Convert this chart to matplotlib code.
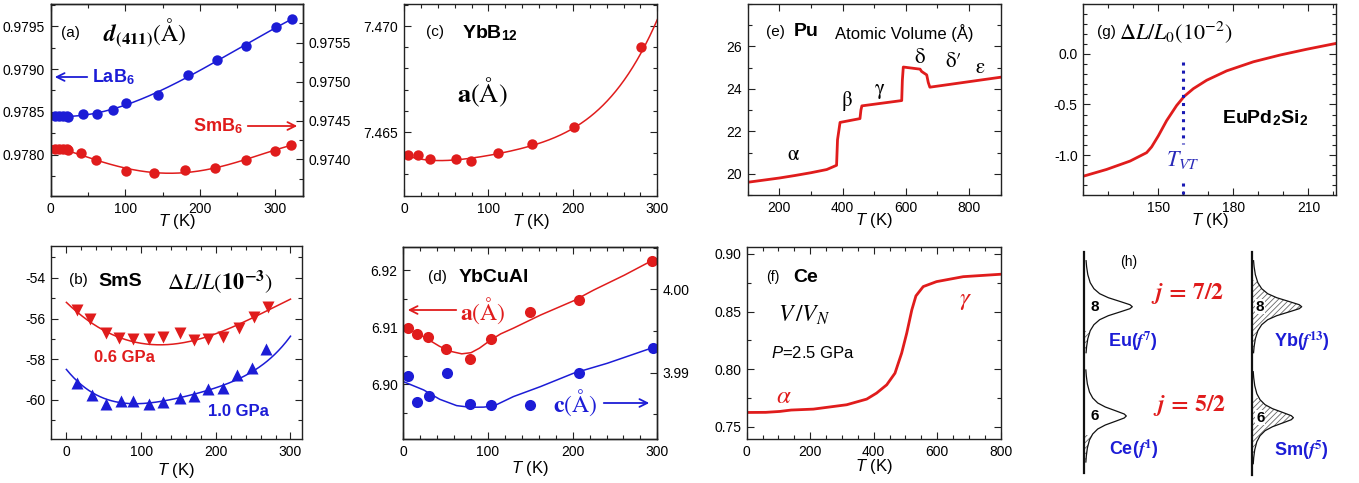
import numpy as np
import matplotlib
matplotlib.use('Agg')
import matplotlib.pyplot as plt
from matplotlib.ticker import MultipleLocator, FormatStrFormatter, FixedLocator
from numpy.polynomial import Polynomial

W, H = 1359, 483
plt.rcParams['font.family'] = ['Liberation Sans', 'DejaVu Sans']
plt.rcParams['mathtext.fontset'] = 'custom'
plt.rcParams['mathtext.rm'] = 'STIXGeneral'
plt.rcParams['mathtext.it'] = 'STIXGeneral:italic'
plt.rcParams['mathtext.bf'] = 'STIXGeneral:bold'
if 'mathtext.bfit' in plt.rcParams:
    plt.rcParams['mathtext.bfit'] = 'STIXGeneral:italic:bold'
plt.rcParams['mathtext.sf'] = 'Liberation Sans:bold'
plt.rcParams['mathtext.tt'] = 'Liberation Sans:italic'
plt.rcParams['axes.unicode_minus'] = False
plt.rcParams['hatch.linewidth'] = 0.6

RED = '#e01c1c'
BLUE = '#1c1cd6'

# ---------------- data ----------------
# (a) d(411) LaB6 (left axis) and SmB6 (right axis)
a_T_La = [5.8, 11.5, 16.9, 21.3, 23.5, 42.7, 62.6, 83.5, 100.4, 143.5, 183.5, 222.3, 262, 301.3, 323.5]
a_d_La = [0.97845, 0.97845, 0.97845, 0.97845, 0.97844, 0.97848, 0.97848, 0.97852, 0.97861,
          0.97870, 0.97893, 0.97910, 0.97927, 0.97949, 0.97958]
a_T_Sm = [5.8, 11.5, 16.9, 21.3, 23.5, 40.4, 61.3, 101.3, 139, 180.4, 220.4, 261.3, 300.4, 321.3]
a_d_Sm = [0.97414, 0.97414, 0.97414, 0.97413, 0.97412, 0.97408, 0.97399, 0.97385, 0.97382,
          0.97387, 0.97389, 0.97399, 0.97411, 0.97419]
a_right_ticks = [0.9740, 0.9745, 0.9750, 0.9755]

# (b) SmS dL/L (1e-3)
b_T_06 = [14.7, 32, 52.4, 70.2, 89.7, 111, 129.7, 151.5, 171, 190, 210, 231, 250.7, 270]
b_v_06 = [-55.59, -56.04, -56.70, -56.97, -57.02, -57.02, -56.92, -56.73, -57.06, -57.02,
          -56.89, -56.48, -55.94, -55.42]
b_T_10 = [14.7, 34.4, 52.4, 73.3, 89.7, 111, 129.7, 151.5, 171, 190, 209.8, 228.9, 248.9, 266.7]
b_v_10 = [-59.15, -59.75, -60.19, -60.06, -60.06, -60.19, -60.08, -59.88, -59.78, -59.47,
          -59.42, -58.77, -58.44, -57.51]
b_cT_06 = [0, 26.7, 53.3, 80, 111, 142, 178, 213, 249, 299]
b_cv_06 = [-55.23, -55.99, -56.65, -57.06, -57.30, -57.25, -56.97, -56.57, -55.99, -55.06]
b_cT_10 = [0, 22.2, 44.4, 71.1, 97.8, 124.4, 151.1, 177.8, 213.3, 248.9, 275.6, 298.7]
b_cv_10 = [-58.49, -59.34, -59.83, -60.11, -60.16, -60.08, -59.92, -59.67, -59.18, -58.61,
           -57.9, -56.92]

# (c) YbB12 a
c_T = [5.1, 16.2, 30.9, 61.3, 79.5, 111.6, 151.6, 201, 281]
c_a = [7.46392, 7.46390, 7.46373, 7.46371, 7.46365, 7.46401, 7.46442, 7.46522, 7.46899]
c_cT = [0, 30, 60, 80, 110, 150, 200, 230, 250, 281, 300]
c_ca = [7.46390, 7.46375, 7.46368, 7.46368, 7.46395, 7.46442, 7.46522, 7.46600, 7.46672,
        7.46899, 7.47020]

# (d) YbCuAl a (left) and c (right)
d_T_a = [5.9, 16.6, 29.6, 50.5, 79, 103.4, 149.2, 207.3, 294.1]
d_a = [6.90977, 6.90871, 6.90819, 6.90614, 6.90439, 6.90795, 6.91269, 6.91468, 6.92164]
d_T_c = [5.9, 16.6, 30.8, 52.1, 79, 103.4, 149.2, 207.3, 295.3]
d_c = [3.9896, 3.98652, 3.98724, 3.98992, 3.9862, 3.98612, 3.98612, 3.99, 3.99292]
d_cT_a = [0, 12, 24, 43, 57, 69, 80, 90, 103, 115, 130, 162, 201, 225, 261, 298]
d_ca = [6.9099, 6.9092, 6.9083, 6.9066, 6.9057, 6.9053, 6.9055, 6.9063, 6.9077, 6.9088,
        6.9098, 6.9121, 6.9146, 6.9165, 6.9191, 6.9220]
d_cT_c = [0, 24, 43, 63, 79, 95, 107, 130, 162, 201, 241, 296]
d_cc = [3.98892, 3.98792, 3.9868, 3.98604, 3.98584, 3.98586, 3.98600, 3.98712, 3.98832,
        3.98992, 3.99112, 3.99304]

# (e) Pu atomic volume
e_T = [100, 150, 200, 250, 300, 350, 381, 384, 392, 455, 458, 461, 587, 589, 592, 645,
       650, 666, 671, 676, 900]
e_V = [19.6, 19.7, 19.8, 19.92, 20.05, 20.2, 20.4, 21.6, 22.42, 22.6, 23.0, 23.2, 23.45,
       24.4, 25.03, 24.93, 24.82, 24.66, 24.3, 24.08, 24.55]
e_yticks = [20, 22, 24, 26]

# (f) Ce V/VN
f_T = [0, 60, 105, 125, 140, 210, 315, 378, 409, 441, 467, 488, 504, 520, 533, 556, 598, 682, 800]
f_V = [0.7624, 0.7625, 0.7633, 0.7640, 0.7645, 0.7653, 0.7691, 0.7740, 0.7792, 0.7864,
       0.7965, 0.8139, 0.8312, 0.8514, 0.8636, 0.8717, 0.8760, 0.8803, 0.8824]

# (g) EuPd2Si2 dL/L0
g_T = [120, 129.3, 138.7, 145.3, 147.3, 150, 153.3, 157.3, 160.3, 164, 169.3, 177.3, 188,
       198.7, 209.3, 220, 221]
g_L = [-1.21, -1.143, -1.06, -0.977, -0.92, -0.81, -0.66, -0.51, -0.42, -0.343, -0.26,
       -0.167, -0.077, -0.01, 0.047, 0.1, 0.105]
g_TVT = 160

# (h) schematic peak profile (offset in px, relative width)
h_prof_dy = [-46, -40, -32, -24, -18, -13, -9, -5, -2, 0, 2, 5, 9, 13, 18, 24, 32, 40, 46]
h_prof_w = [0.037, 0.048, 0.073, 0.123, 0.2, 0.32, 0.5, 0.76, 0.95, 1.0, 0.95, 0.76, 0.5,
            0.32, 0.2, 0.123, 0.073, 0.048, 0.037]
h_line_x = [1084.3, 1251.7]
h_peak_line = [0, 0, 1, 1]
h_peak_y = [306.7, 416.0, 306.7, 417.7]
h_peak_w = [48, 42, 50, 41.7]
h_fermi = [331, 435, 280, 398]
h_num = ['8', '6', '8', '6']
h_ion = [r'Eu($\boldsymbol{f}^{\mathbf{7}}$)', r'Ce($\boldsymbol{f}^{\mathbf{1}}$)',
         r'Yb($\boldsymbol{f}^{\mathbf{13}}$)', r'Sm($\boldsymbol{f}^{\mathbf{5}}$)']

# ---------------- helpers ----------------
fig = plt.figure(figsize=(W / 100, H / 100), dpi=100)


def F(x, y):
    return (x / W, 1 - y / H)


def make_ax(l, r, t, b):
    return fig.add_axes([l / W, 1 - b / H, (r - l) / W, (b - t) / H])


def style(ax, left=True, right=True, top=True):
    ax.tick_params(which='both', direction='in', top=top, right=right, left=left,
                   labelsize=10, pad=4, width=0.8, color='#222222')
    ax.tick_params(which='major', length=5)
    ax.tick_params(which='minor', length=3)
    for s in ax.spines.values():
        s.set_linewidth(1.0)
        s.set_color('#222222')


def ftext(x, y, s, **kw):
    kw.setdefault('ha', 'center')
    kw.setdefault('va', 'center')
    fig.text(x / W, 1 - y / H, s, **kw)


def arrow(x0, y0, x1, y1, color):
    fig.add_artist(matplotlib.patches.FancyArrowPatch(
        F(x0, y0), F(x1, y1), transform=fig.transFigure, arrowstyle='->',
        mutation_scale=14, lw=1.3, color=color))


def fitcurve(x, y, deg, x0, x1):
    p = Polynomial.fit(x, y, deg)
    xx = np.linspace(x0, x1, 300)
    return xx, p(xx)


def xlab(ax, dy, axh):
    ax.set_xlabel(r'$\mathtt{T}$ (K)', fontsize=12)
    ax.xaxis.set_label_coords(0.5, -dy / axh)
    ax.xaxis.label.set_va('center')


# ---------------- (a) ----------------
ax = make_ax(50.7, 303, 4, 196)
ax2 = ax.twinx()
style(ax, right=False)
style(ax2, left=False)
ax.set_xlim(0, 338)
ax.set_ylim(0.977523, 0.979756)
ax2.set_ylim(0.97353, 0.97600)
xx, yy = fitcurve(a_T_La, a_d_La, 4, 0, 325)
ax.plot(xx, yy, color=BLUE, lw=1.1)
ax.plot(a_T_La, a_d_La, 'o', color=BLUE, ms=7.5, mec='none')
xx, yy = fitcurve(a_T_Sm, a_d_Sm, 4, 0, 325)
ax2.plot(xx, yy, color=RED, lw=1.1)
ax2.plot(a_T_Sm, a_d_Sm, 'o', color=RED, ms=7.5, mec='none')
ax.xaxis.set_major_locator(MultipleLocator(100))
ax.xaxis.set_minor_locator(MultipleLocator(50))
ax.yaxis.set_major_locator(MultipleLocator(0.0005))
ax.yaxis.set_minor_locator(MultipleLocator(0.00025))
ax.yaxis.set_major_formatter(FormatStrFormatter('%.4f'))
ax2.yaxis.set_major_locator(FixedLocator(a_right_ticks))
ax2.yaxis.set_minor_locator(MultipleLocator(0.00025))
ax2.yaxis.set_major_formatter(FormatStrFormatter('%.4f'))
xlab(ax, 25.5, 192)
ftext(70, 33, '(a)', fontsize=11)
ftext(145, 33, r'$\boldsymbol{d}_{\mathbf{(411)}}(\mathrm{Å})$', fontsize=17)
ftext(92, 77, r'LaB$_{\mathsf{6}}$', fontsize=13, fontweight='bold', color=BLUE, ha='left')
arrow(90, 77, 52, 77, BLUE)
ftext(193, 126, r'SmB$_{\mathsf{6}}$', fontsize=13, fontweight='bold', color=RED, ha='left')
arrow(245, 126, 300, 126, RED)

# ---------------- (b) ----------------
ax = make_ax(50.7, 301.7, 246, 439.3)
style(ax)
ax.set_xlim(-21, 315)
ax.set_ylim(-61.93, -52.44)
xx, yy = fitcurve(b_cT_06, b_cv_06, 4, 0, 300)
ax.plot(xx, yy, color=RED, lw=1.1)
ax.plot(b_T_06, b_v_06, 'v', color=RED, ms=8, mec='none')
xx, yy = fitcurve(b_cT_10, b_cv_10, 5, 0, 300)
ax.plot(xx, yy, color=BLUE, lw=1.1)
ax.plot(b_T_10, b_v_10, '^', color=BLUE, ms=8, mec='none')
ax.xaxis.set_major_locator(MultipleLocator(100))
ax.xaxis.set_minor_locator(MultipleLocator(20))
ax.yaxis.set_major_locator(MultipleLocator(2))
ax.yaxis.set_minor_locator(MultipleLocator(1))
xlab(ax, 30.7, 193.3)
ftext(78, 280, '(b)', fontsize=11)
ftext(120, 282, 'SmS', fontsize=14, fontweight='bold')
ftext(220, 282, r'$\Delta L/L(\mathbf{10}^{\mathbf{-3}})$', fontsize=16)
ftext(124.5, 357, '0.6 GPa', fontsize=12, fontweight='bold', color=RED)
ftext(238.5, 412, '1.0 GPa', fontsize=12, fontweight='bold', color=BLUE)

# ---------------- (c) ----------------
ax = make_ax(404, 657.3, 4, 196)
style(ax)
ax.set_xlim(0, 300)
ax.set_ylim(7.46198, 7.47104)
xx, yy = fitcurve(c_cT, c_ca, 5, 0, 300)
ax.plot(xx, yy, color=RED, lw=1.1)
ax.plot(c_T, c_a, 'o', color=RED, ms=7.5, mec='none')
ax.xaxis.set_major_locator(MultipleLocator(100))
ax.xaxis.set_minor_locator(MultipleLocator(20))
ax.yaxis.set_major_locator(MultipleLocator(0.005))
ax.yaxis.set_minor_locator(MultipleLocator(0.001))
ax.yaxis.set_major_formatter(FormatStrFormatter('%.3f'))
xlab(ax, 25.5, 192)
ftext(435, 32, '(c)', fontsize=11)
ftext(490, 33, r'YbB$_{\mathsf{12}}$', fontsize=14, fontweight='bold')
ftext(482, 92, r'$\mathbf{a}(\mathrm{Å})$', fontsize=19)

# ---------------- (d) ----------------
ax = make_ax(403.3, 657.3, 246.7, 439.3)
ax2 = ax.twinx()
style(ax, right=False)
style(ax2, left=False)
ax.set_xlim(0, 300)
ax.set_ylim(6.8903, 6.9241)
ax2.set_ylim(3.9820, 4.0051)
ax.plot(d_cT_a, d_ca, color=RED, lw=1.1)
ax.plot(d_T_a, d_a, 'o', color=RED, ms=8, mec='none')
ax2.plot(d_cT_c, d_cc, color=BLUE, lw=1.1)
ax2.plot(d_T_c, d_c, 'o', color=BLUE, ms=8, mec='none')
ax.xaxis.set_major_locator(MultipleLocator(100))
ax.xaxis.set_minor_locator(MultipleLocator(20))
ax.yaxis.set_major_locator(MultipleLocator(0.01))
ax.yaxis.set_minor_locator(MultipleLocator(0.005))
ax.yaxis.set_major_formatter(FormatStrFormatter('%.2f'))
ax2.yaxis.set_major_locator(MultipleLocator(0.01))
ax2.yaxis.set_minor_locator(MultipleLocator(0.005))
ax2.yaxis.set_major_formatter(FormatStrFormatter('%.2f'))
xlab(ax, 29, 192.6)
ftext(437, 277, '(d)', fontsize=11)
ftext(494, 277, 'YbCuAl', fontsize=14, fontweight='bold')
ftext(482.5, 311, r'$\mathbf{a}(\mathrm{Å})$', fontsize=17, color=RED)
arrow(459, 310, 405, 310, RED)
ftext(575.5, 403, r'$\mathbf{c}(\mathrm{Å})$', fontsize=17, color=BLUE)
arrow(601, 403, 652, 403, BLUE)

# ---------------- (e) ----------------
ax = make_ax(747.7, 1000.7, 4, 195)
style(ax)
ax.set_xlim(100, 900)
ax.set_ylim(19.0, 28.0)
ax.plot(e_T, e_V, color=RED, lw=2)
ax.xaxis.set_major_locator(MultipleLocator(200))
ax.xaxis.set_minor_locator(MultipleLocator(100))
ax.yaxis.set_major_locator(FixedLocator(e_yticks))
ax.yaxis.set_minor_locator(MultipleLocator(1))
xlab(ax, 26, 191)
ftext(775, 32, '(e)', fontsize=11)
ftext(806, 32, 'Pu', fontsize=14, fontweight='bold')
ftext(904, 33, 'Atomic Volume (Å)', fontsize=12)
for s, x, y in [('α', 793, 155), ('β', 846.7, 101), ('γ', 880, 89), ('δ', 920, 58),
                ('δ′', 954, 62), ('ε', 980, 68)]:
    ftext(x, y, s, fontsize=15, family=['STIXGeneral', 'DejaVu Serif'])

# ---------------- (f) ----------------
ax = make_ax(746.7, 1000.7, 247.3, 439.3)
style(ax)
ax.set_xlim(0, 800)
ax.set_ylim(0.7391, 0.9058)
ax.plot(f_T, f_V, color=RED, lw=2)
ax.xaxis.set_major_locator(MultipleLocator(200))
ax.xaxis.set_minor_locator(MultipleLocator(50))
ax.yaxis.set_major_locator(MultipleLocator(0.05))
ax.yaxis.set_minor_locator(MultipleLocator(0.025))
ax.yaxis.set_major_formatter(FormatStrFormatter('%.2f'))
xlab(ax, 27.5, 192)
ftext(773, 277, '(f)', fontsize=10)
ftext(806, 278, 'Ce', fontsize=14, fontweight='bold')
ftext(804, 315, r'$V\,/V_N$', fontsize=17)
ftext(813, 353, r'$\mathtt{P}$=2.5 GPa', fontsize=12)
ftext(784, 396, r'$\alpha$', fontsize=18, color=RED)
ftext(965, 300, r'$\gamma$', fontsize=18, color=RED)

# ---------------- (g) ----------------
ax = make_ax(1083.3, 1336, 4, 195)
style(ax)
ax.set_xlim(120, 221)
ax.set_ylim(-1.396, 0.495)
ax.plot(g_T, g_L, color=RED, lw=2)
ax.plot([g_TVT, g_TVT], [-0.08, -0.89], ls=':', color='#1a1ab4', lw=2.2)
ax.plot([g_TVT, g_TVT], [-1.28, -1.396], ls=':', color='#1a1ab4', lw=2.2)
ax.xaxis.set_major_locator(FixedLocator([150, 180, 210]))
ax.xaxis.set_minor_locator(MultipleLocator(10))
ax.yaxis.set_major_locator(MultipleLocator(0.5))
ax.yaxis.set_minor_locator(MultipleLocator(0.1))
ax.yaxis.set_major_formatter(FormatStrFormatter('%.1f'))
xlab(ax, 26, 191)
ftext(1106.5, 32, '(g)', fontsize=11)
ftext(1176, 32, r'$\Delta L/L_0(10^{-2})$', fontsize=16)
ftext(1265.5, 118, r'EuPd$_{\mathsf{2}}$Si$_{\mathsf{2}}$', fontsize=14, fontweight='bold')
ftext(1183.3, 160, r'$T_{VT}$', fontsize=16, color='#2a2ab8')

# ---------------- (h) ----------------
axh = fig.add_axes([1060 / W, 0, 299 / W, 240 / H])
axh.set_xlim(1060, 1359)
axh.set_ylim(483, 243)
axh.axis('off')
axh.plot([h_line_x[0], h_line_x[0]], [251.7, 473.3], color='#111111', lw=1.6)
axh.plot([h_line_x[1], h_line_x[1]], [251.7, 475], color='#111111', lw=1.6)
dy = np.array(h_prof_dy, float)
pw = np.array(h_prof_w, float)
for i in range(4):
    lx = h_line_x[h_peak_line[i]]
    cy = h_peak_y[i]
    w = h_peak_w[i]
    axh.plot(lx + w * pw, cy + dy, color='#111111', lw=0.9)
    ys = np.linspace(h_fermi[i], cy + dy[-1], 60)
    xs = lx + w * np.interp(ys, cy + dy, pw)
    axh.fill_betweenx(ys, lx, xs, facecolor='none', edgecolor='#666666', hatch='//////', lw=0)
    tx = lx + (10 if h_peak_line[i] == 0 else 8.5)
    bb = dict(facecolor='white', edgecolor='none', pad=0.5) if h_peak_line[i] == 1 else None
    axh.text(tx, cy, h_num[i], fontsize=11, fontweight='bold', ha='center', va='center', bbox=bb)
ftext(1128.3, 262, '(h)', fontsize=10)
ftext(1132.5, 341.5, h_ion[0], fontsize=13, fontweight='bold', color=BLUE)
ftext(1133.5, 449.5, h_ion[1], fontsize=13, fontweight='bold', color=BLUE)
ftext(1301.7, 341, h_ion[2], fontsize=13, fontweight='bold', color=BLUE)
ftext(1301, 450, h_ion[3], fontsize=13, fontweight='bold', color=BLUE)
ftext(1187.5, 294, r'$\boldsymbol{j}\mathbf{\,=\,7/2}$', fontsize=17, color=RED)
ftext(1190, 405, r'$\boldsymbol{j}\mathbf{\,=\,5/2}$', fontsize=17, color=RED)

fig.savefig('out.png', dpi=100)
